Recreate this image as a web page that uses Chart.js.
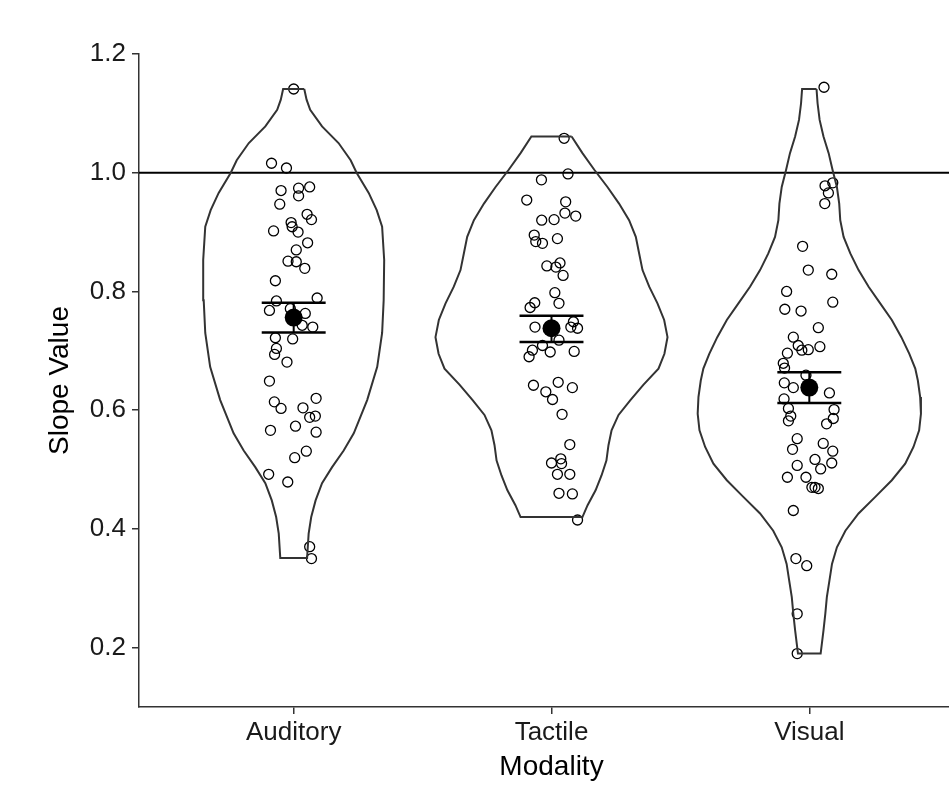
<!DOCTYPE html>
<html>
<head>
<meta charset="utf-8">
<script src="https://cdn.jsdelivr.net/npm/chart.js@4.4.1/dist/chart.umd.min.js"></script>
<style>
  html, body { margin: 0; padding: 0; background: #fff; overflow: hidden; }
  canvas { display: block; }
</style>
</head>
<body>
<!-- the plot runs past the right edge of the window, as in the cropped original -->
<canvas id="slopeChart" width="973" height="792"></canvas>
<script>
// === Data ===
const modalities = ["Auditory", "Tactile", "Visual"];
const yTicks = [0.2, 0.4, 0.6, 0.8, 1.0, 1.2];
const referenceLine = 1.0;

const meanSlope = [0.756, 0.738, 0.638];
const seLower = [0.731, 0.715, 0.612];
const seUpper = [0.781, 0.759, 0.664];

// slope per participant + horizontal jitter (category units)
const auditorySlopes = [1.141, 1.016, 1.008, 0.970, 0.974, 0.976, 0.961, 0.947, 0.930, 0.921, 0.916, 0.909, 0.902, 0.900, 0.882, 0.870, 0.851, 0.850, 0.839, 0.818, 0.789, 0.784, 0.768, 0.771, 0.763, 0.743, 0.740, 0.722, 0.704, 0.720, 0.694, 0.681, 0.649, 0.614, 0.603, 0.620, 0.604, 0.588, 0.590, 0.566, 0.573, 0.563, 0.531, 0.520, 0.492, 0.479, 0.370, 0.350];
const auditoryJitter = [0.000, -0.086, -0.028, -0.049, 0.019, 0.062, 0.019, -0.054, 0.052, 0.069, -0.010, -0.006, -0.078, 0.017, 0.054, 0.010, -0.022, 0.010, 0.043, -0.071, 0.091, -0.067, -0.094, -0.013, 0.045, 0.033, 0.074, -0.071, -0.067, -0.004, -0.074, -0.026, -0.094, -0.075, -0.049, 0.087, 0.036, 0.062, 0.084, -0.090, 0.007, 0.087, 0.049, 0.004, -0.097, -0.023, 0.062, 0.069];

const tactileSlopes = [1.058, 0.988, 0.998, 0.954, 0.951, 0.932, 0.927, 0.920, 0.921, 0.895, 0.884, 0.881, 0.889, 0.843, 0.841, 0.848, 0.827, 0.798, 0.780, 0.781, 0.773, 0.740, 0.749, 0.740, 0.738, 0.718, 0.709, 0.701, 0.690, 0.698, 0.699, 0.642, 0.647, 0.638, 0.631, 0.618, 0.593, 0.542, 0.518, 0.511, 0.510, 0.492, 0.492, 0.460, 0.459, 0.415];
const tactileJitter = [0.049, -0.039, 0.064, -0.096, 0.055, 0.052, 0.094, -0.038, 0.010, -0.067, -0.061, -0.035, 0.023, -0.018, 0.017, 0.033, 0.045, 0.013, 0.029, -0.065, -0.083, -0.064, 0.085, 0.075, 0.101, 0.029, -0.035, -0.074, -0.087, -0.005, 0.088, -0.070, 0.026, 0.081, -0.022, 0.004, 0.041, 0.071, 0.036, 0.000, 0.039, 0.023, 0.071, 0.029, 0.081, 0.101];

const visualSlopes = [1.144, 0.983, 0.978, 0.966, 0.948, 0.876, 0.836, 0.829, 0.800, 0.782, 0.770, 0.767, 0.739, 0.723, 0.709, 0.701, 0.702, 0.707, 0.696, 0.679, 0.671, 0.659, 0.646, 0.638, 0.629, 0.619, 0.603, 0.590, 0.582, 0.601, 0.586, 0.577, 0.552, 0.534, 0.544, 0.531, 0.517, 0.511, 0.501, 0.507, 0.487, 0.487, 0.470, 0.468, 0.470, 0.431, 0.350, 0.338, 0.257, 0.190];
const visualJitter = [0.057, 0.091, 0.061, 0.074, 0.060, -0.026, -0.004, 0.087, -0.088, 0.091, -0.095, -0.032, 0.035, -0.062, -0.043, -0.029, -0.004, 0.041, -0.085, -0.101, -0.096, -0.013, -0.097, -0.062, 0.078, -0.098, -0.081, -0.072, -0.081, 0.096, 0.093, 0.067, -0.047, -0.065, 0.054, 0.091, 0.022, 0.087, 0.044, -0.047, -0.085, -0.013, 0.022, 0.035, 0.010, -0.062, -0.052, -0.010, -0.047, -0.047];

// violin outlines: slope level and density half-width (category units)
const auditoryViolinY = [1.141, 1.123, 1.106, 1.078, 1.050, 1.021, 1.000, 0.966, 0.937, 0.909, 0.853, 0.785, 0.730, 0.673, 0.617, 0.561, 0.532, 0.504, 0.477, 0.448, 0.420, 0.392, 0.351];
const auditoryViolinW = [0.041, 0.050, 0.064, 0.110, 0.174, 0.221, 0.244, 0.291, 0.322, 0.343, 0.351, 0.349, 0.343, 0.324, 0.285, 0.233, 0.194, 0.149, 0.110, 0.085, 0.068, 0.058, 0.052];

const tactileViolinY = [1.061, 1.033, 1.005, 0.976, 0.948, 0.920, 0.892, 0.864, 0.836, 0.808, 0.780, 0.752, 0.723, 0.695, 0.670, 0.643, 0.617, 0.592, 0.566, 0.541, 0.515, 0.490, 0.465, 0.440, 0.420];
const tactileViolinW = [0.078, 0.120, 0.166, 0.217, 0.262, 0.301, 0.327, 0.340, 0.353, 0.379, 0.411, 0.437, 0.450, 0.438, 0.415, 0.357, 0.306, 0.260, 0.233, 0.221, 0.213, 0.194, 0.171, 0.140, 0.120];

const visualViolinY = [1.141, 1.117, 1.089, 1.061, 1.033, 1.005, 0.976, 0.948, 0.920, 0.892, 0.864, 0.836, 0.808, 0.780, 0.752, 0.723, 0.695, 0.670, 0.650, 0.622, 0.594, 0.566, 0.538, 0.510, 0.482, 0.454, 0.426, 0.397, 0.369, 0.341, 0.313, 0.285, 0.257, 0.229, 0.190];
const visualViolinW = [0.028, 0.032, 0.040, 0.055, 0.075, 0.090, 0.107, 0.116, 0.120, 0.133, 0.159, 0.191, 0.230, 0.275, 0.320, 0.357, 0.388, 0.411, 0.421, 0.430, 0.433, 0.426, 0.404, 0.372, 0.320, 0.256, 0.191, 0.140, 0.107, 0.088, 0.078, 0.068, 0.062, 0.055, 0.044];

// === Build datasets ===
const slopes = [auditorySlopes, tactileSlopes, visualSlopes];
const jitters = [auditoryJitter, tactileJitter, visualJitter];
const violinYs = [auditoryViolinY, tactileViolinY, visualViolinY];
const violinWs = [auditoryViolinW, tactileViolinW, visualViolinW];

const FONT = "'Liberation Sans', Arial, Helvetica, sans-serif";
const CAP = 0.124; // error bar cap half width

function lineSet(points, color, width) {
    return {
        type: "scatter",
        data: points,
        showLine: true,
        borderColor: color,
        borderWidth: width,
        pointRadius: 0,
        fill: false,
        tension: 0
    };
}

const datasets = [];

// violins
violinYs.forEach((ys, i) => {
    const c = i + 1;
    const right = ys.map((y, k) => ({ x: c + violinWs[i][k], y }));
    const left = ys.map((y, k) => ({ x: c - violinWs[i][k], y })).reverse();
    const outline = right.concat(left);
    outline.push(outline[0]);
    datasets.push(lineSet(outline, "#333333", 2));
});

// reference line
datasets.push(lineSet([{ x: 0.4, y: referenceLine }, { x: 3.6, y: referenceLine }], "#000000", 2));

// jittered points
slopes.forEach((arr, i) => {
    datasets.push({
        type: "scatter",
        data: arr.map((y, k) => ({ x: i + 1 + jitters[i][k], y })),
        pointRadius: 5,
        pointBorderWidth: 1.3,
        pointBorderColor: "#000000",
        pointBackgroundColor: "rgba(0,0,0,0)"
    });
});

// error bars + means
meanSlope.forEach((m, i) => {
    const c = i + 1;
    datasets.push(lineSet([{ x: c - CAP, y: seUpper[i] }, { x: c + CAP, y: seUpper[i] }], "#000000", 2.5));
    datasets.push(lineSet([{ x: c - CAP, y: seLower[i] }, { x: c + CAP, y: seLower[i] }], "#000000", 2.5));
    datasets.push(lineSet([{ x: c, y: seLower[i] }, { x: c, y: seUpper[i] }], "#000000", 2));
});
datasets.push({
    type: "scatter",
    data: meanSlope.map((y, i) => ({ x: i + 1, y })),
    pointRadius: 9,
    pointBorderWidth: 0,
    pointBackgroundColor: "#000000"
});

new Chart(document.getElementById("slopeChart"), {
    type: "scatter",
    data: { datasets },
    options: {
        responsive: false,
        animation: false,
        layout: { padding: { top: 54, right: 0, bottom: 0, left: 0 } },
        plugins: { legend: { display: false }, tooltip: { enabled: false } },
        scales: {
            x: {
                type: "linear",
                min: 0.4,
                max: 3.6,
                afterBuildTicks: axis => { axis.ticks = modalities.map((_, i) => ({ value: i + 1 })); },
                afterFit: axis => { axis.height = 85; },
                ticks: {
                    callback: v => modalities[v - 1],
                    color: "#1a1a1a",
                    font: { family: FONT, size: 26 },
                    padding: 3,
                    maxRotation: 0,
                    autoSkip: false
                },
                grid: { drawOnChartArea: false, drawTicks: true, tickLength: 7, color: "#333333", lineWidth: 1.5 },
                border: { display: true, color: "#333333", width: 1.5 },
                title: {
                    display: true,
                    text: "Modality",
                    color: "#000000",
                    font: { family: FONT, size: 28 },
                    padding: { top: 0, bottom: 8 }
                }
            },
            y: {
                type: "linear",
                min: 0.1,
                max: 1.2,
                afterBuildTicks: axis => { axis.ticks = yTicks.map(v => ({ value: v })); },
                afterFit: axis => { axis.width = 139; },
                ticks: {
                    callback: v => v.toFixed(1),
                    color: "#1a1a1a",
                    font: { family: FONT, size: 26 },
                    padding: 6
                },
                grid: { drawOnChartArea: false, drawTicks: true, tickLength: 7, color: "#333333", lineWidth: 1.5 },
                border: { display: true, color: "#333333", width: 1.5 },
                title: {
                    display: true,
                    text: "Slope Value",
                    color: "#000000",
                    font: { family: FONT, size: 28 },
                    padding: { top: 43, bottom: 0 }
                }
            }
        }
    }
});
</script>
</body>
</html>
